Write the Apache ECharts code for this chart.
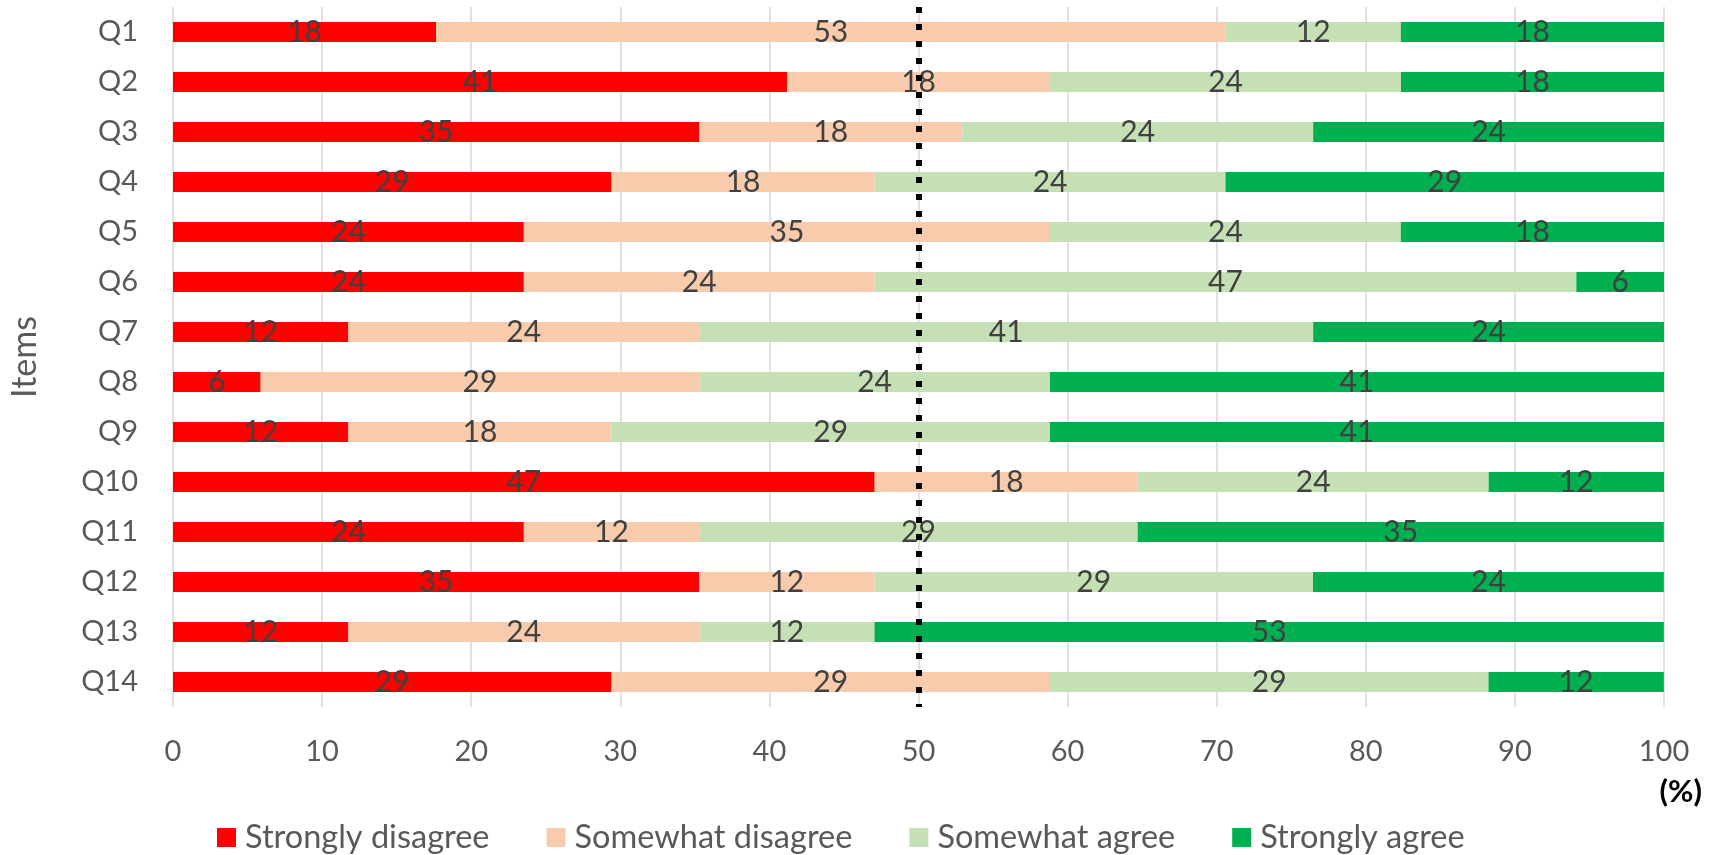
<!DOCTYPE html>
<html>
<head>
<meta charset="utf-8">
<script src="https://cdn.jsdelivr.net/npm/echarts@6/dist/echarts.min.js"></script>
<style>
  html, body { margin: 0; padding: 0; background: #fff; }
  #chart { width: 1713px; height: 855px; }
</style>
</head>
<body>
<div id="chart"></div>
<script>
// items (y axis)
const items = ['Q1','Q2','Q3','Q4','Q5','Q6','Q7','Q8','Q9','Q10','Q11','Q12','Q13','Q14'];
// x axis ticks
const xTicks = [0, 10, 20, 30, 40, 50, 60, 70, 80, 90, 100];
// share of answers per item (%), label shows rounded value
const strongDisagree = [17.65, 41.18, 35.29, 29.41, 23.53, 23.53, 11.76, 5.88, 11.76, 47.06, 23.53, 35.29, 11.76, 29.41];
const somewhatDisagree = [52.94, 17.65, 17.65, 17.65, 35.29, 23.53, 23.53, 29.41, 17.65, 17.65, 11.76, 11.76, 23.53, 29.41];
const somewhatAgree = [11.76, 23.53, 23.53, 23.53, 23.53, 47.06, 41.18, 23.53, 29.41, 23.53, 29.41, 29.41, 11.76, 29.41];
const strongAgree = [17.65, 17.65, 23.53, 29.41, 17.65, 5.88, 23.53, 41.18, 41.18, 11.76, 35.29, 23.53, 52.94, 11.76];
const seriesNames = ['Strongly disagree', 'Somewhat disagree', 'Somewhat agree', 'Strongly agree'];
const colors = ['#FF0000', '#F8CBAD', '#C5E0B4', '#00B050'];
const midLine = 50;

const chart = echarts.init(document.getElementById('chart'));

function makeSeries(name, data, color, withLine) {
  const s = {
    name: name,
    type: 'bar',
    stack: 'total',
    data: data,
    barWidth: 20,
    itemStyle: { color: color },
    label: {
      show: true,
      position: 'inside',
      color: '#404040',
      fontFamily: 'Lato',
      fontSize: 30,
      textBorderWidth: 0,
      formatter: p => Math.round(p.value)
    }
  };
  if (withLine) {
    // dotted 50% reference line
    s.markLine = {
      silent: true,
      symbol: 'none',
      label: { show: false },
      lineStyle: { color: '#000', width: 6, type: [6, 11], cap: 'butt' },
      data: [{ xAxis: midLine }]
    };
  }
  return s;
}

const option = {
  animation: false,
  textStyle: { fontFamily: 'Lato' },
  grid: { left: 152, right: 49, top: 7, bottom: 148 },
  title: {
    text: '(%)',
    right: 6,
    top: 771,
    textStyle: { fontFamily: 'Lato', fontSize: 31, fontWeight: 'bold', color: '#000' }
  },
  legend: {
    data: seriesNames,
    top: 816,
    left: 212,
    icon: 'rect',
    itemWidth: 19,
    itemHeight: 19,
    itemGap: 57,
    textStyle: { fontFamily: 'Lato', fontSize: 32.5, color: '#595959', padding: [0, 0, 0, 4] }
  },
  xAxis: {
    type: 'value',
    min: xTicks[0],
    max: xTicks[xTicks.length - 1],
    interval: 10,
    axisLine: { show: false },
    axisTick: { show: false },
    axisLabel: { fontFamily: 'Lato', fontSize: 29, color: '#595959', margin: 30 },
    splitLine: { lineStyle: { color: '#D9D9D9', width: 1.5 } }
  },
  yAxis: {
    type: 'category',
    data: items,
    inverse: true,
    name: 'Items',
    nameLocation: 'middle',
    nameRotate: 90,
    nameGap: 131,
    nameTextStyle: { fontFamily: 'Lato', fontSize: 34, color: '#595959' },
    axisLine: { show: false },
    axisTick: { show: false },
    axisLabel: { fontFamily: 'Lato', fontSize: 29, color: '#595959', margin: 35 }
  },
  series: [
    makeSeries(seriesNames[0], strongDisagree, colors[0], false),
    makeSeries(seriesNames[1], somewhatDisagree, colors[1], false),
    makeSeries(seriesNames[2], somewhatAgree, colors[2], false),
    makeSeries(seriesNames[3], strongAgree, colors[3], true)
  ]
};

chart.setOption(option);
</script>
</body>
</html>
